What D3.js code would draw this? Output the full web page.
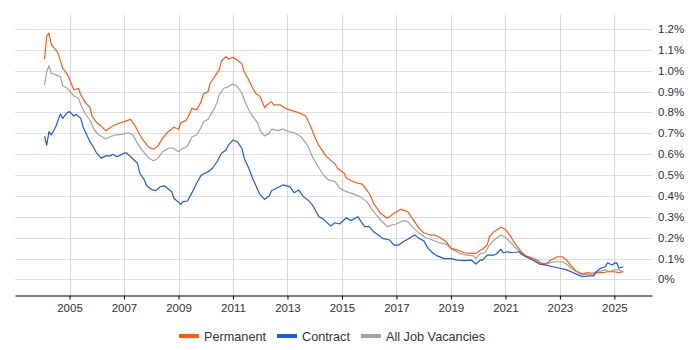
<!DOCTYPE html>
<html>
<head>
<meta charset="utf-8">
<script src="https://cdn.jsdelivr.net/npm/d3@7"></script>
<style>
  body { margin: 0; background: #fff; }
  text { font-family: "Liberation Sans", Arial, sans-serif; fill: #333; }
</style>
</head>
<body>
<div id="container"></div>
<script>
// Values (share of UK job ads, %)
const permanent = [
  ["2004-02", 1.055], ["2004-03", 1.166], ["2004-04", 1.18], ["2004-05", 1.128], ["2004-07", 1.10],
  ["2004-08", 1.083], ["2004-10", 1.012], ["2004-12", 0.984], ["2005-02", 0.932], ["2005-03", 0.908],
  ["2005-05", 0.916], ["2005-06", 0.884], ["2005-08", 0.847], ["2005-10", 0.825], ["2005-11", 0.78],
  ["2006-01", 0.751], ["2006-03", 0.735], ["2006-05", 0.713], ["2006-06", 0.72], ["2006-08", 0.735],
  ["2006-10", 0.745], ["2007-01", 0.756], ["2007-04", 0.767], ["2007-06", 0.735], ["2007-08", 0.692],
  ["2007-10", 0.66], ["2007-12", 0.633], ["2008-02", 0.624], ["2008-04", 0.64], ["2008-06", 0.676],
  ["2008-08", 0.703], ["2008-11", 0.729], ["2009-01", 0.72], ["2009-02", 0.751], ["2009-04", 0.760],
  ["2009-05", 0.772], ["2009-07", 0.82], ["2009-09", 0.812], ["2009-11", 0.852], ["2009-12", 0.889],
  ["2010-02", 0.90], ["2010-03", 0.94], ["2010-05", 0.972], ["2010-07", 1.004], ["2010-08", 1.048],
  ["2010-10", 1.067], ["2010-11", 1.056], ["2011-01", 1.064], ["2011-03", 1.051], ["2011-05", 1.032],
  ["2011-06", 0.995], ["2011-08", 0.956], ["2011-09", 0.932], ["2011-11", 0.892], ["2012-01", 0.876],
  ["2012-03", 0.823], ["2012-04", 0.836], ["2012-06", 0.852], ["2012-07", 0.836], ["2012-10", 0.836],
  ["2012-12", 0.82], ["2013-03", 0.809], ["2013-06", 0.799], ["2013-09", 0.783], ["2013-11", 0.74],
  ["2014-01", 0.684], ["2014-03", 0.64], ["2014-06", 0.592], ["2014-08", 0.572], ["2014-10", 0.553],
  ["2014-11", 0.533], ["2015-02", 0.509], ["2015-03", 0.485], ["2015-06", 0.469], ["2015-08", 0.461],
  ["2015-10", 0.457], ["2016-01", 0.413], ["2016-03", 0.365], ["2016-06", 0.317], ["2016-09", 0.293],
  ["2016-12", 0.317], ["2017-03", 0.336], ["2017-06", 0.325], ["2017-08", 0.293], ["2017-11", 0.245],
  ["2018-01", 0.224], ["2018-04", 0.213], ["2018-06", 0.213], ["2018-08", 0.202], ["2018-11", 0.181],
  ["2019-01", 0.149], ["2019-04", 0.141], ["2019-07", 0.128], ["2019-09", 0.125], ["2019-12", 0.125],
  ["2020-02", 0.141], ["2020-03", 0.145], ["2020-05", 0.165], ["2020-06", 0.205], ["2020-08", 0.229],
  ["2020-11", 0.25], ["2021-01", 0.24], ["2021-03", 0.213], ["2021-05", 0.176], ["2021-08", 0.133],
  ["2021-10", 0.113], ["2021-12", 0.106], ["2022-03", 0.093], ["2022-05", 0.078], ["2022-07", 0.074],
  ["2022-09", 0.093], ["2022-12", 0.109], ["2023-02", 0.109], ["2023-04", 0.093], ["2023-06", 0.065],
  ["2023-08", 0.042], ["2023-11", 0.026], ["2024-01", 0.033], ["2024-03", 0.03], ["2024-05", 0.033],
  ["2024-08", 0.033], ["2024-10", 0.037], ["2025-01", 0.037], ["2025-03", 0.033], ["2025-05", 0.037]
];

const contract = [
  ["2004-02", 0.687], ["2004-03", 0.644], ["2004-04", 0.708], ["2004-05", 0.692], ["2004-07", 0.732],
  ["2004-08", 0.764], ["2004-09", 0.793], ["2004-10", 0.772], ["2004-12", 0.799], ["2005-01", 0.804],
  ["2005-03", 0.783], ["2005-04", 0.791], ["2005-06", 0.772], ["2005-07", 0.732], ["2005-09", 0.684],
  ["2005-10", 0.66], ["2005-11", 0.644], ["2006-01", 0.605], ["2006-03", 0.581], ["2006-05", 0.592],
  ["2006-07", 0.592], ["2006-08", 0.60], ["2006-10", 0.588], ["2007-01", 0.605], ["2007-02", 0.607],
  ["2007-04", 0.588], ["2007-07", 0.557], ["2007-08", 0.509], ["2007-10", 0.477], ["2007-11", 0.449],
  ["2008-01", 0.432], ["2008-03", 0.425], ["2008-05", 0.445], ["2008-07", 0.448], ["2008-09", 0.429],
  ["2008-10", 0.421], ["2008-11", 0.389], ["2009-02", 0.36], ["2009-03", 0.373], ["2009-05", 0.376],
  ["2009-07", 0.416], ["2009-09", 0.461], ["2009-11", 0.50], ["2010-02", 0.516], ["2010-04", 0.533],
  ["2010-06", 0.564], ["2010-08", 0.605], ["2010-10", 0.62], ["2010-11", 0.644], ["2011-01", 0.668],
  ["2011-03", 0.66], ["2011-05", 0.628], ["2011-06", 0.581], ["2011-08", 0.533], ["2011-10", 0.477],
  ["2011-12", 0.429], ["2012-01", 0.405], ["2012-03", 0.384], ["2012-05", 0.40], ["2012-06", 0.425],
  ["2012-09", 0.442], ["2012-11", 0.453], ["2013-02", 0.445], ["2013-04", 0.416], ["2013-06", 0.429],
  ["2013-08", 0.397], ["2013-10", 0.381], ["2013-12", 0.357], ["2014-02", 0.317], ["2014-03", 0.301],
  ["2014-05", 0.288], ["2014-08", 0.256], ["2014-10", 0.272], ["2014-12", 0.266], ["2015-03", 0.296],
  ["2015-05", 0.282], ["2015-08", 0.301], ["2015-11", 0.253], ["2016-01", 0.253], ["2016-03", 0.229],
  ["2016-05", 0.213], ["2016-07", 0.197], ["2016-10", 0.189], ["2016-12", 0.165], ["2017-02", 0.165],
  ["2017-04", 0.181], ["2017-06", 0.193], ["2017-09", 0.213], ["2017-11", 0.197], ["2018-01", 0.186],
  ["2018-03", 0.149], ["2018-05", 0.128], ["2018-07", 0.113], ["2018-10", 0.10], ["2019-01", 0.10],
  ["2019-04", 0.093], ["2019-07", 0.09], ["2019-10", 0.093], ["2019-12", 0.074], ["2020-02", 0.093],
  ["2020-03", 0.093], ["2020-05", 0.117], ["2020-08", 0.117], ["2020-09", 0.122], ["2020-11", 0.145],
  ["2020-12", 0.128], ["2021-02", 0.133], ["2021-04", 0.128], ["2021-07", 0.133], ["2021-08", 0.122],
  ["2021-10", 0.109], ["2022-01", 0.093], ["2022-04", 0.074], ["2022-07", 0.069], ["2022-10", 0.061],
  ["2023-01", 0.054], ["2023-04", 0.046], ["2023-06", 0.037], ["2023-09", 0.022], ["2023-11", 0.013],
  ["2024-02", 0.017], ["2024-04", 0.017], ["2024-05", 0.037], ["2024-07", 0.054], ["2024-09", 0.061],
  ["2024-10", 0.08], ["2024-12", 0.069], ["2025-01", 0.078], ["2025-02", 0.08], ["2025-03", 0.054],
  ["2025-05", 0.061]
];

const allJobs = [
  ["2004-02", 0.932], ["2004-03", 0.995], ["2004-04", 1.024], ["2004-05", 0.988], ["2004-07", 0.98],
  ["2004-09", 0.972], ["2004-10", 0.927], ["2004-12", 0.916], ["2005-03", 0.879], ["2005-05", 0.868],
  ["2005-06", 0.836], ["2005-08", 0.793], ["2005-10", 0.764], ["2005-12", 0.716], ["2006-02", 0.692],
  ["2006-05", 0.673], ["2006-07", 0.684], ["2006-09", 0.692], ["2006-12", 0.695], ["2007-03", 0.703],
  ["2007-05", 0.692], ["2007-07", 0.652], ["2007-09", 0.62], ["2007-12", 0.581], ["2008-02", 0.569],
  ["2008-04", 0.581], ["2008-06", 0.612], ["2008-09", 0.631], ["2008-11", 0.628], ["2009-01", 0.612],
  ["2009-03", 0.628], ["2009-04", 0.631], ["2009-05", 0.64], ["2009-07", 0.684], ["2009-09", 0.692],
  ["2009-11", 0.729], ["2009-12", 0.756], ["2010-02", 0.767], ["2010-04", 0.804], ["2010-06", 0.847],
  ["2010-07", 0.884], ["2010-09", 0.916], ["2010-11", 0.924], ["2011-01", 0.937], ["2011-03", 0.924],
  ["2011-05", 0.892], ["2011-06", 0.86], ["2011-08", 0.812], ["2011-09", 0.793], ["2011-12", 0.748],
  ["2012-01", 0.713], ["2012-03", 0.687], ["2012-05", 0.70], ["2012-06", 0.72], ["2012-09", 0.713],
  ["2012-11", 0.72], ["2013-01", 0.711], ["2013-04", 0.703], ["2013-07", 0.684], ["2013-10", 0.64],
  ["2013-12", 0.588], ["2014-03", 0.533], ["2014-05", 0.50], ["2014-07", 0.477], ["2014-10", 0.469],
  ["2014-12", 0.437], ["2015-03", 0.421], ["2015-06", 0.41], ["2015-09", 0.397], ["2015-12", 0.373],
  ["2016-03", 0.325], ["2016-06", 0.285], ["2016-09", 0.253], ["2016-11", 0.261], ["2017-01", 0.266],
  ["2017-04", 0.282], ["2017-06", 0.277], ["2017-08", 0.253], ["2017-11", 0.221], ["2018-02", 0.20],
  ["2018-05", 0.189], ["2018-08", 0.176], ["2018-11", 0.169], ["2019-02", 0.141], ["2019-05", 0.125],
  ["2019-08", 0.117], ["2019-11", 0.113], ["2019-12", 0.10], ["2020-02", 0.125], ["2020-04", 0.128],
  ["2020-06", 0.165], ["2020-08", 0.189], ["2020-11", 0.213], ["2021-01", 0.202], ["2021-03", 0.181],
  ["2021-05", 0.157], ["2021-08", 0.128], ["2021-10", 0.113], ["2022-01", 0.097], ["2022-04", 0.078],
  ["2022-06", 0.073], ["2022-08", 0.078], ["2022-11", 0.085], ["2023-02", 0.085], ["2023-04", 0.074],
  ["2023-06", 0.054], ["2023-09", 0.033], ["2023-11", 0.022], ["2024-02", 0.025], ["2024-04", 0.026],
  ["2024-06", 0.037], ["2024-09", 0.046], ["2024-11", 0.037], ["2025-01", 0.046], ["2025-03", 0.046],
  ["2025-05", 0.037]
];

const xTickYears = [2005, 2007, 2009, 2011, 2013, 2015, 2017, 2019, 2021, 2023, 2025];
const yTicks = [0, 0.1, 0.2, 0.3, 0.4, 0.5, 0.6, 0.7, 0.8, 0.9, 1.0, 1.1, 1.2];

const seriesList = [
  { name: "Permanent", color: "#ff5a14", data: permanent },
  { name: "Contract", color: "#1a5ce0", data: contract },
  { name: "All Job Vacancies", color: "#a3a3a3", data: allJobs }
];

const width = 700;
const height = 350;
const plot = { left: 15, right: 652, top: 15, bottom: 295 };

const svg = d3.create("svg")
  .attr("width", width)
  .attr("height", height);
container.append(svg.node());

const parse = d3.timeParse("%Y-%m");

const x = d3.scaleTime()
  .domain([new Date(2003, 0, 1), new Date(2026, 4, 20)])
  .range([plot.left, plot.right]);

const y = d3.scaleLinear()
  .domain([-0.0743, 1.267])
  .range([plot.bottom, plot.top]);

// horizontal grid + right hand labels
svg.append("g")
  .selectAll("line")
  .data(yTicks)
  .join("line")
  .attr("x1", plot.left)
  .attr("x2", plot.right)
  .attr("y1", d => Math.round(y(d)) + 0.5)
  .attr("y2", d => Math.round(y(d)) + 0.5)
  .attr("stroke", "#dedede");

svg.append("g")
  .selectAll("text")
  .data(yTicks)
  .join("text")
  .attr("x", 658)
  .attr("y", d => y(d) + 4)
  .style("font-size", "11.5px")
  .text(d => d === 0 ? "0%" : d3.format(".1f")(d) + "%");

// vertical grid at the year ticks
const tickDates = xTickYears.map(yr => new Date(yr, 0, 1));
svg.append("g")
  .selectAll("line")
  .data(tickDates)
  .join("line")
  .attr("x1", d => Math.round(x(d)) + 0.5)
  .attr("x2", d => Math.round(x(d)) + 0.5)
  .attr("y1", plot.top)
  .attr("y2", plot.bottom)
  .attr("stroke", "#d6d6d6");

// bottom axis
const xAxis = svg.append("g")
  .attr("transform", `translate(0,${plot.bottom + 0.5})`)
  .call(d3.axisBottom(x)
    .tickValues(tickDates)
    .tickSize(4)
    .tickSizeOuter(0)
    .tickFormat(d3.timeFormat("%Y")));
xAxis.select(".domain").attr("stroke", "#000");
xAxis.selectAll(".tick line").attr("stroke", "#000");
xAxis.selectAll(".tick text")
  .attr("y", 8)
  .style("font-size", "11.5px")
  .style("font-family", "'Liberation Sans', Arial, sans-serif")
  .attr("fill", "#333");

// the three series
const line = d3.line()
  .x(d => x(parse(d[0])))
  .y(d => y(d[1]));

const drawOrder = [seriesList[2], seriesList[0], seriesList[1]];
svg.append("g")
  .selectAll("path")
  .data(drawOrder)
  .join("path")
  .attr("fill", "none")
  .attr("stroke", d => d.color)
  .attr("stroke-width", 1.2)
  .attr("stroke-linejoin", "round")
  .attr("d", d => line(d.data));

// legend
const legendX = [179, 277, 361];
const legend = svg.append("g")
  .selectAll("g")
  .data(seriesList)
  .join("g")
  .attr("transform", (d, i) => `translate(${legendX[i]},336)`);
legend.append("line")
  .attr("x1", 0)
  .attr("x2", 20)
  .attr("stroke", d => d.color)
  .attr("stroke-width", 4);
legend.append("text")
  .attr("x", 25)
  .attr("y", 4.5)
  .style("font-size", "12.7px")
  .attr("fill", "#222")
  .text(d => d.name);
</script>
</body>
</html>
